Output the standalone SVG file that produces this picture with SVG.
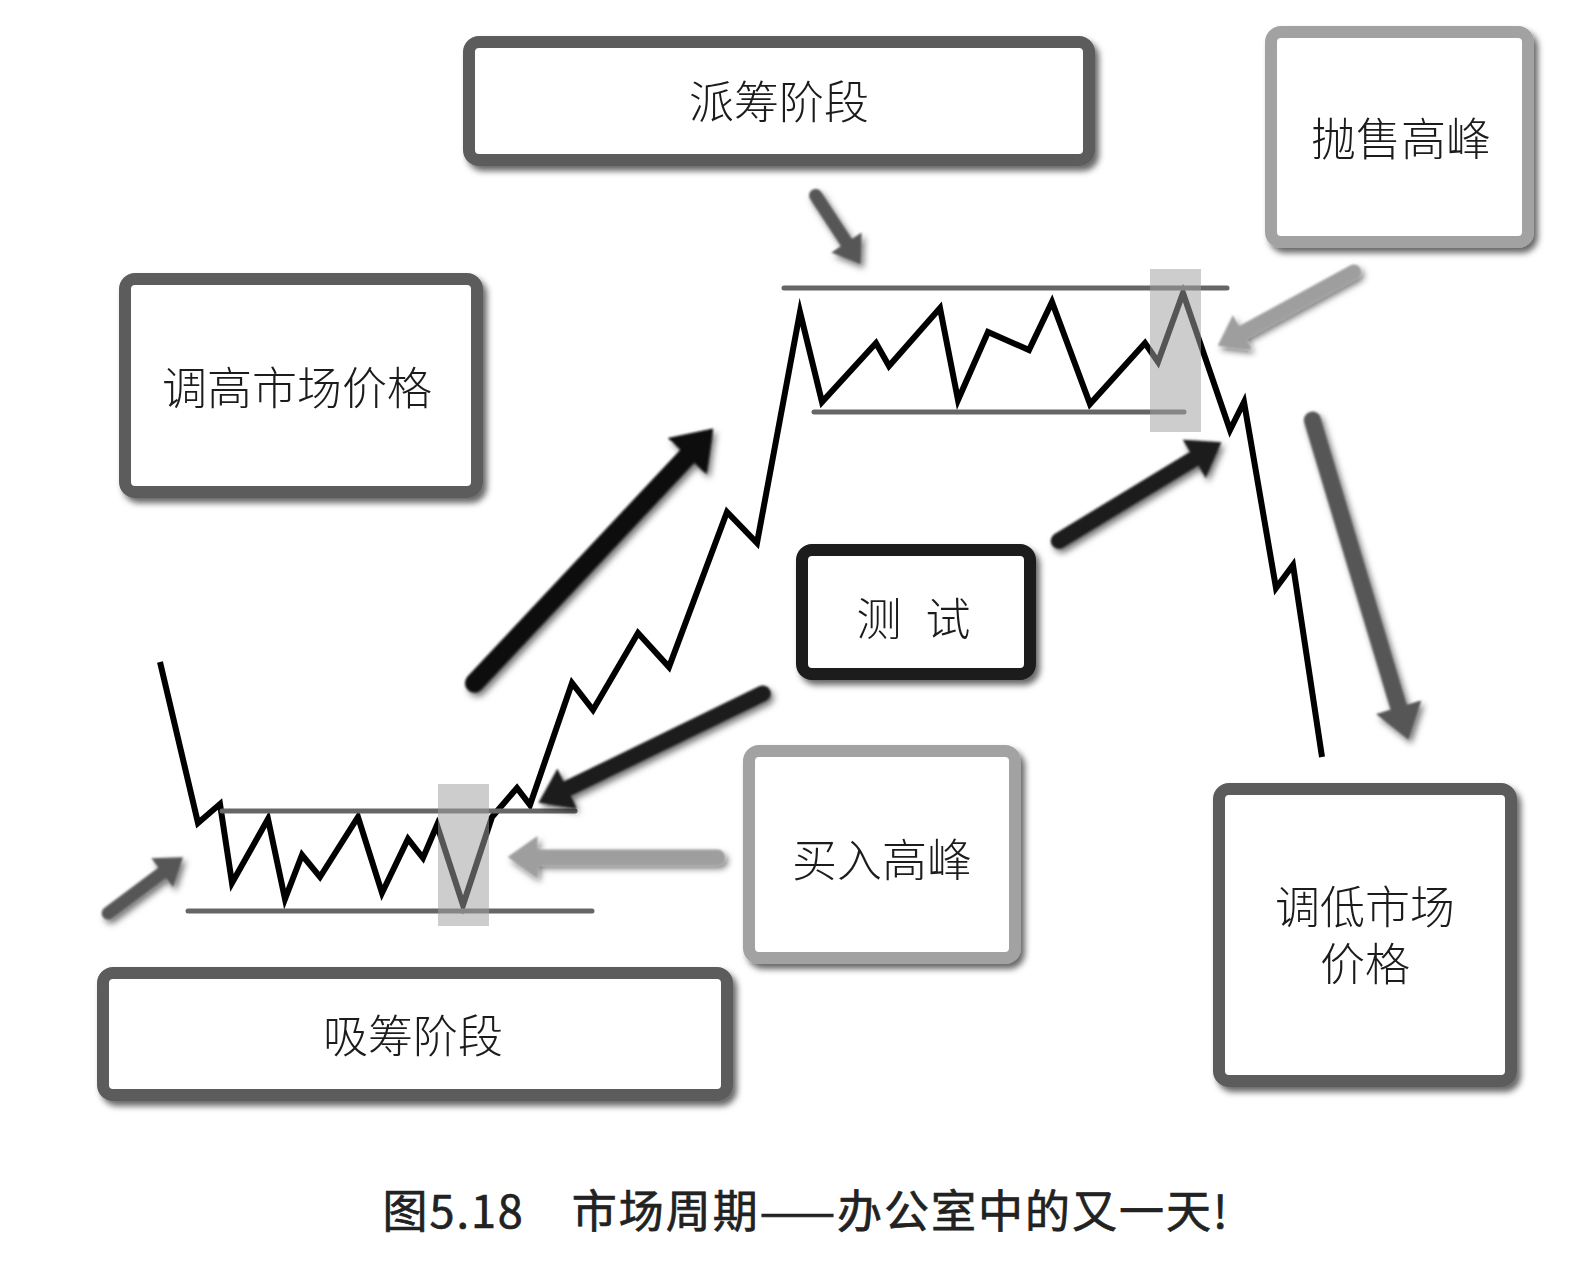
<svg xmlns="http://www.w3.org/2000/svg" width="1596" height="1261" viewBox="0 0 1596 1261">
<style>
.box{fill:#fff;stroke-width:12}
.dark{stroke:#5c5c5c}
.light{stroke:#a2a2a2}
.black{stroke:#1c1c1c}
.lbl{font-family:"Noto Sans CJK SC","Noto Sans",sans-serif;font-size:45px;font-weight:300;fill:#1a1a1a;text-anchor:middle;dominant-baseline:central}
.price{fill:none;stroke:#000;stroke-width:6;stroke-linejoin:miter;stroke-miterlimit:10}
.range{stroke:#666;stroke-width:5;stroke-linecap:round}
.hl{fill:#a0a0a0;fill-opacity:0.53}
.arr{fill:none;stroke-linecap:round}
.cap{font-family:"Noto Sans CJK SC","Noto Sans",sans-serif;font-size:45px;font-weight:400;fill:#222;stroke:#222;stroke-width:0.7;text-anchor:middle;dominant-baseline:central}
</style>
<defs>
<filter id="sh" x="-20%" y="-20%" width="140%" height="140%">
<feDropShadow dx="4" dy="5" stdDeviation="3" flood-color="#000" flood-opacity="0.6"/>
</filter>
<filter id="ash" x="-20%" y="-20%" width="140%" height="140%">
<feGaussianBlur stdDeviation="1"/>
<feDropShadow dx="3" dy="4" stdDeviation="3" flood-color="#000" flood-opacity="0.55"/>
</filter>
<marker id="hBlack" viewBox="0 -1.4 2 2.8" markerWidth="2" markerHeight="2.8" refX="0.8" refY="0" orient="auto" markerUnits="strokeWidth"><path d="M0,-1.4 L2,0 L0,1.4 Z" fill="#0a0a0a"/></marker>
<marker id="hDark" viewBox="0 -1.4 2 2.8" markerWidth="2" markerHeight="2.8" refX="0.8" refY="0" orient="auto" markerUnits="strokeWidth"><path d="M0,-1.4 L2,0 L0,1.4 Z" fill="#1c1c1c"/></marker>
<marker id="hGray" viewBox="0 -1.4 2 2.8" markerWidth="2" markerHeight="2.8" refX="0.8" refY="0" orient="auto" markerUnits="strokeWidth"><path d="M0,-1.4 L2,0 L0,1.4 Z" fill="#575757"/></marker>
<marker id="hLight" viewBox="0 -1.4 2 2.8" markerWidth="2" markerHeight="2.8" refX="0.8" refY="0" orient="auto" markerUnits="strokeWidth"><path d="M0,-1.4 L2,0 L0,1.4 Z" fill="#9e9e9e"/></marker>
</defs>
<rect width="1596" height="1261" fill="#fff"/>

<g id="chart">
<polyline class="price" points="160,662 198,823 220,804 232,883 268,819 285,899 302,855 320,877 358,817 382,893 408,839 423,858 437,825 463,905 492,817 517,788 530,805 572,683 593,710 638,633 669,667 727,512 757,543 800,312 822,402 876,343 889,366 940,308 958,400 988,332 1029,350 1052,302 1090,404 1145,343 1158,362 1183,293 1230,430 1244,402 1276,588 1293,565 1322,757"/>
<line class="range" x1="222" y1="811" x2="575" y2="811"/>
<line class="range" x1="188" y1="911" x2="592" y2="911"/>
<line class="range" x1="784" y1="288" x2="1227" y2="288"/>
<line class="range" x1="814" y1="412" x2="1184" y2="412"/>
<rect class="hl" x="438" y="784" width="51" height="142"/>
<rect class="hl" x="1150" y="269" width="51" height="163"/>
</g>

<g id="n-paichou" filter="url(#sh)">
<rect class="box dark" x="469" y="42" width="620" height="118" rx="10"/>
<text class="lbl" x="779" y="99">派筹阶段</text>
</g>
<g id="n-paoshou" filter="url(#sh)">
<rect class="box light" x="1271" y="32" width="257" height="210" rx="10"/>
<text class="lbl" x="1401" y="136">抛售高峰</text>
</g>
<g id="n-tiaogao" filter="url(#sh)">
<rect class="box dark" x="125" y="279" width="352" height="213" rx="10"/>
<text class="lbl" x="297" y="385">调高市场价格</text>
</g>
<g id="n-ceshi" filter="url(#sh)">
<rect class="box black" x="802" y="550" width="228" height="124" rx="10"/>
<text class="lbl" y="616"><tspan x="879">测</tspan><tspan x="948">试</tspan></text>
</g>
<g id="n-mairu" filter="url(#sh)">
<rect class="box light" x="749" y="751" width="266" height="207" rx="10"/>
<text class="lbl" x="882" y="857">买入高峰</text>
</g>
<g id="n-xichou" filter="url(#sh)">
<rect class="box dark" x="103" y="973" width="624" height="122" rx="10"/>
<text class="lbl" x="413" y="1033">吸筹阶段</text>
</g>
<g id="n-tiaodi" filter="url(#sh)">
<rect class="box dark" x="1219" y="789" width="292" height="292" rx="10"/>
<text class="lbl" x="1365" y="904">调低市场<tspan x="1365" dy="57">价格</tspan></text>
</g>

<g id="connectors" filter="url(#ash)">
<line class="arr" stroke="#575757" stroke-width="13" marker-end="url(#hGray)" x1="108.2" y1="913.1" x2="170.5" y2="866.6"/>
<line class="arr" stroke="#0a0a0a" stroke-width="19" marker-end="url(#hBlack)" x1="474.5" y1="683.1" x2="697.7" y2="445.2"/>
<line class="arr" stroke="#1c1c1c" stroke-width="16" marker-end="url(#hDark)" x1="762.8" y1="693.5" x2="555.8" y2="794.3"/>
<line class="arr" stroke="#9e9e9e" stroke-width="15" marker-end="url(#hLight)" x1="717.5" y1="857" x2="525.5" y2="857"/>
<line class="arr" stroke="#1c1c1c" stroke-width="16" marker-end="url(#hDark)" x1="1058.8" y1="540.8" x2="1205" y2="452.1"/>
<line class="arr" stroke="#9e9e9e" stroke-width="14" marker-end="url(#hLight)" x1="1353.9" y1="271.4" x2="1232.5" y2="337.6"/>
<line class="arr" stroke="#575757" stroke-width="17" marker-end="url(#hGray)" x1="1312.4" y1="420.1" x2="1402.6" y2="720.1"/>
<line class="arr" stroke="#575757" stroke-width="13" marker-end="url(#hGray)" x1="815.6" y1="195.4" x2="852.1" y2="251.1"/>
</g>

<text id="caption" class="cap" x="805" y="1208" textLength="845" lengthAdjust="spacing">图5.18　市场周期——办公室中的又一天!</text>
</svg>
